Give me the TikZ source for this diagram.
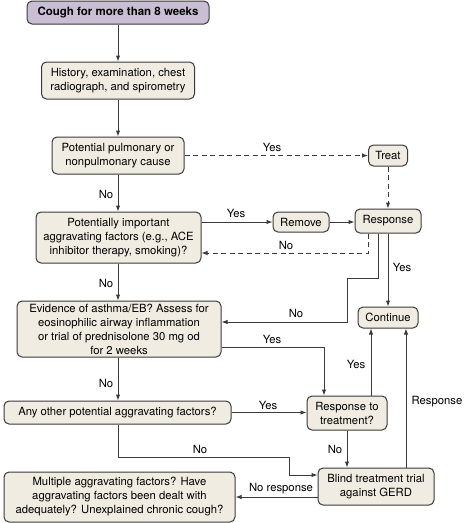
\documentclass[tikz,border=0pt]{standalone}
\usepackage{fontspec}
\setmainfont{TeX Gyre Heros}
\usetikzlibrary{arrows.meta,calc}
\definecolor{boxfill}{HTML}{F0ECE2}
\definecolor{topfill}{HTML}{C9BED3}
\definecolor{edge}{HTML}{3A3A3A}
\begin{document}
\begin{tikzpicture}[x=1pt,y=-1pt,
  font=\fontsize{11.3}{14}\selectfont,
  box/.style={draw=edge,line width=1pt,fill=boxfill,rounded corners=5pt,align=center,inner sep=0pt},
  arr/.style={draw=edge,line width=1pt,-{Latex[length=6pt,width=4.5pt]}},
  dsh/.style={dashed,dash pattern=on 5pt off 3.5pt},
  lab/.style={inner sep=0pt}]
\useasboundingbox (0,0) rectangle (466,523);
\node[box,fill=topfill,minimum width=182pt,minimum height=23pt,font=\fontsize{11.5}{13.5}\selectfont\bfseries] (top) at (118,12.5) {Cough for more than 8 weeks};
\node[box,minimum width=153pt,minimum height=37pt] (hist) at (118,80.5) {History, examination, chest\\radiograph, and spirometry};
\node[box,minimum width=132pt,minimum height=37pt] (pot) at (118,155.5) {Potential pulmonary or\\nonpulmonary cause};
\node[box,minimum width=39pt,minimum height=21pt] (treat) at (388,155.5) {Treat};
\node[box,minimum width=165pt,minimum height=51pt] (aggr) at (118.5,237.5) {Potentially important\\aggravating factors (e.g., ACE\\inhibitor therapy, smoking)?};
\node[box,minimum width=56pt,minimum height=20pt] (remove) at (301,222) {Remove};
\node[box,minimum width=66pt,minimum height=24pt] (resp) at (388,221) {Response};
\node[box,minimum width=204pt,minimum height=56pt] (evid) at (119,329) {Evidence of asthma/EB? Assess for\\eosinophilic airway inflammation\\or trial of prednisolone 30 mg od\\for 2 weeks};
\node[box,minimum width=60pt,minimum height=21pt] (cont) at (388,317.5) {Continue};
\node[box,minimum width=227pt,minimum height=23pt] (anyo) at (117.5,412.5) {Any other potential aggravating factors?};
\node[box,minimum width=80pt,minimum height=34pt] (rtt) at (347,413) {Response to\\treatment?};
\node[box,minimum width=116pt,minimum height=37pt] (blind) at (376,486.5) {Blind treatment trial\\against GERD};
\node[box,minimum width=231pt,minimum height=50pt] (mult) at (119.5,497) {Multiple aggravating factors? Have\\aggravating factors been dealt with\\adequately? Unexplained chronic cough?};
\coordinate (c1) at (347,278);
\coordinate (c2) at (289,457);
% connectors
\draw[arr] (top.south) -- (top.south |- hist.north);
\draw[arr] (hist.south) -- (hist.south |- pot.north);
\draw[arr,dsh] (pot.east) -- (pot.east -| treat.west);
\draw[arr,dsh] (treat.south) -- (resp.north);
\draw[arr] (pot.south) -- (pot.south |- aggr.north);
\draw[arr] (aggr.east |- remove) -- (remove.west);
\draw[arr] (remove.east) -- (remove.east -| resp.west);
\draw[arr,dsh] ([xshift=-20pt]resp.south) |- ([yshift=-15.5pt]aggr.east);
\draw[arr] (aggr.south -| pot.south) -- (pot.south |- evid.north);
\draw[arr] ([xshift=-10pt]resp.south) |- (c1) |- ([yshift=7pt]evid.east);
\draw[arr] (resp.south) -- (cont.north);
\draw[arr] ([yshift=-18pt]evid.east) -| ([xshift=-23pt]rtt.north);
\draw[arr] (evid.south -| pot.south) -- (pot.south |- anyo.north);
\draw[arr] (anyo.east) -- (anyo.east -| rtt.west);
\draw[arr] ([xshift=24pt]rtt.north) -- ([xshift=24pt]rtt.north |- cont.south);
\draw[arr] (anyo.south -| pot.south) |- (c2) |- ([yshift=11.5pt]blind.west);
\draw[arr] (rtt.south) -- (rtt.south |- blind.north);
\draw[arr] ([xshift=30pt]blind.north) -- ([xshift=30pt]blind.north |- cont.south);
\draw[arr] ([yshift=-10.5pt]blind.west) -- ([yshift=-10.5pt]blind.west -| mult.east);
% labels
\node[lab] (l1) at (272,147) {Yes};
\node[lab] (l2) at (106,194) {No};
\node[lab] (l3) at (236,213) {Yes};
\node[lab] (l4) at (286,245) {No};
\node[lab] (l5) at (106,283) {No};
\node[lab] (l6) at (296,313) {No};
\node[lab] (l7) at (402,267) {Yes};
\node[lab] (l8) at (272,339) {Yes};
\node[lab] (l9) at (356,364) {Yes};
\node[lab] (l10) at (106,383) {No};
\node[lab] (l11) at (268,405) {Yes};
\node[lab] (l12) at (437,402) {Response};
\node[lab] (l13) at (200,449) {No};
\node[lab] (l14) at (335,449) {No};
\node[lab] (l15) at (281,489) {No response};
\end{tikzpicture}
\end{document}
